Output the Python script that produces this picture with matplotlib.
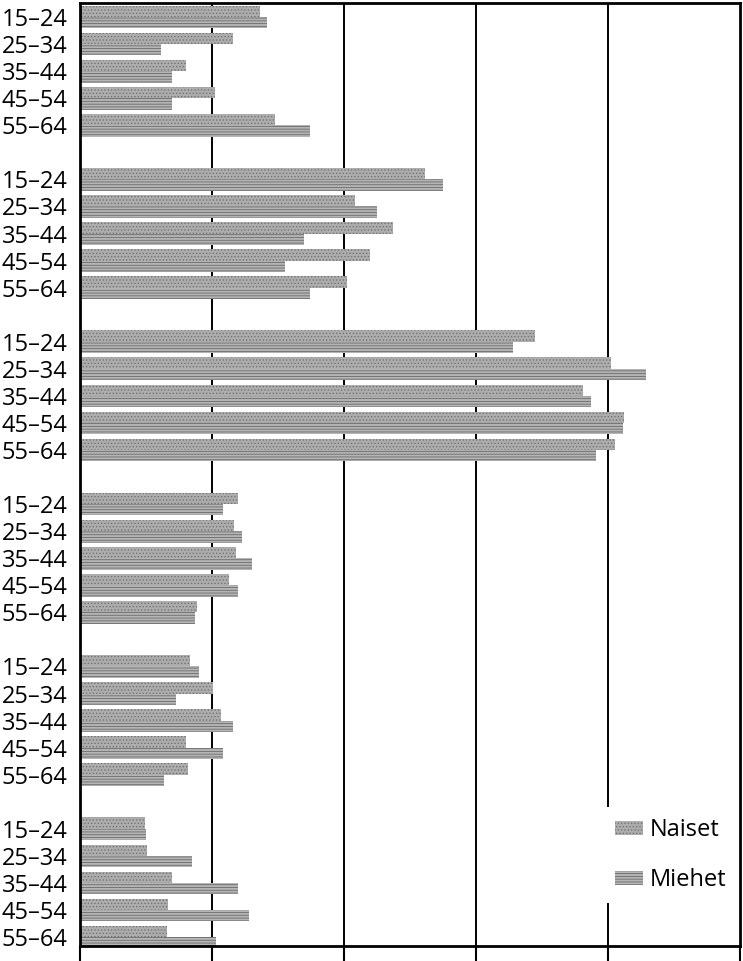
import matplotlib
matplotlib.use("Agg")
import matplotlib.pyplot as plt
import numpy as np
from matplotlib.patches import Patch

ages = ["15–24", "25–34", "35–44", "45–54", "55–64"]
series_names = ["Naiset", "Miehet"]

naiset = [
    [13.6, 11.6, 8.0, 10.2, 14.8],
    [26.1, 20.8, 23.7, 22.0, 20.2],
    [34.5, 40.2, 38.1, 41.2, 40.5],
    [12.0, 11.7, 11.8, 11.3, 8.9],
    [8.3, 10.1, 10.7, 8.0, 8.2],
    [4.9, 5.1, 7.0, 6.7, 6.6],
]
miehet = [
    [14.2, 6.1, 7.0, 7.0, 17.4],
    [27.5, 22.5, 17.0, 15.5, 17.4],
    [32.8, 42.9, 38.7, 41.1, 39.1],
    [10.8, 12.3, 13.0, 12.0, 8.7],
    [9.0, 7.3, 11.6, 10.8, 6.4],
    [5.0, 8.5, 12.0, 12.8, 10.3],
]
x_ticks = [0, 10, 20, 30, 40, 50]

plt.rcParams['hatch.linewidth'] = 0.6
plt.rcParams['font.family'] = ['Open Sans', 'DejaVu Sans']

fig = plt.figure(figsize=(7.43, 9.61), dpi=100)
ax = fig.add_axes([80/743, 15/961, 660/743, 943/961])

bh = 0.42
ypos, labels = [], []
for g in range(len(naiset)):
    for a in range(len(ages)):
        y = g * 6 + a
        ypos.append(y)
        labels.append(ages[a])
        ax.barh(y - bh/2, naiset[g][a], height=bh, facecolor='#adadad',
                edgecolor='#737373', hatch='.....', linewidth=0, zorder=2)
        ax.barh(y + bh/2, miehet[g][a], height=bh, facecolor='#b5b5b5',
                edgecolor='#6a6a6a', hatch='------', linewidth=0, zorder=2)

ax.set_xlim(0, 50)
ax.set_ylim(34 + 0.33, -0.52)
ax.set_yticks(ypos)
ax.set_yticklabels(labels, fontsize=17)
ax.tick_params(axis='y', length=0, pad=9)
ax.set_xticks(x_ticks)
ax.set_xticklabels([])
ax.tick_params(axis='x', direction='out', length=11, width=1.5, color='black')
for xv in x_ticks[1:-1]:
    ax.axvline(xv, color='black', lw=1.4, zorder=1)
for s in ax.spines.values():
    s.set_linewidth(2)
    s.set_color('black')

handles = [Patch(facecolor='#adadad', edgecolor='#737373', hatch='.....', linewidth=0),
           Patch(facecolor='#b5b5b5', edgecolor='#6a6a6a', hatch='------', linewidth=0)]
leg = ax.legend(handles, series_names, loc='upper left', bbox_to_anchor=(0.794, 0.147),
                fontsize=17, frameon=True, facecolor='white', edgecolor='none', framealpha=1,
                labelspacing=1.1, handlelength=1.2, handleheight=0.55, handletextpad=0.3,
                borderpad=0.45, borderaxespad=0, fancybox=False)
leg.set_zorder(5)

fig.savefig('out.png', dpi=100)
